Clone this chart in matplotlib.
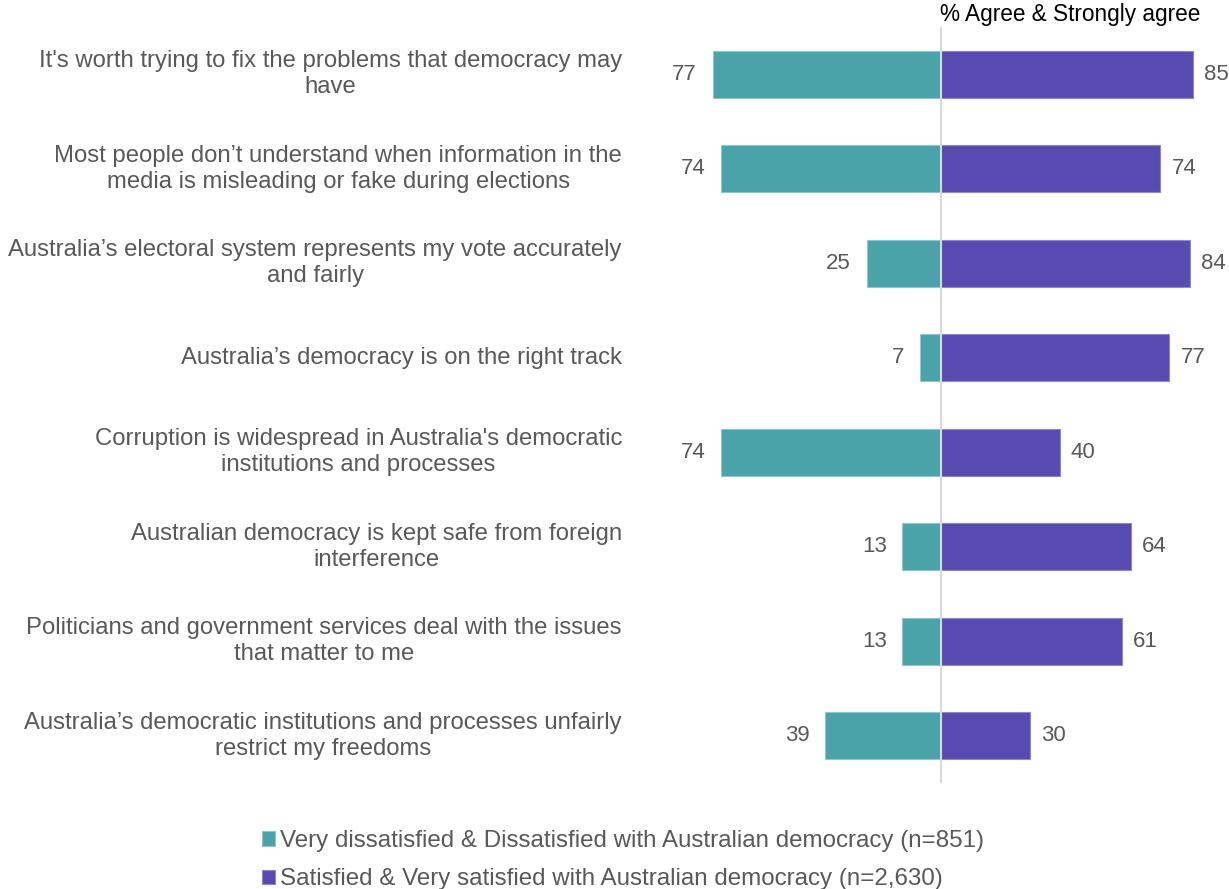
import matplotlib.pyplot as plt
import numpy as np

# data
statements = [
    "It's worth trying to fix the problems that democracy may\nhave",
    "Most people don\u2019t understand when information in the\nmedia is misleading or fake during elections",
    "Australia\u2019s electoral system represents my vote accurately\nand fairly",
    "Australia\u2019s democracy is on the right track",
    "Corruption is widespread in Australia's democratic\ninstitutions and processes",
    "Australian democracy is kept safe from foreign\ninterference",
    "Politicians and government services deal with the issues\nthat matter to me",
    "Australia\u2019s democratic institutions and processes unfairly\nrestrict my freedoms",
]
dissatisfied = [77, 74, 25, 7, 74, 13, 13, 39]
satisfied = [85, 74, 84, 77, 40, 64, 61, 30]
series_names = [
    "Very dissatisfied & Dissatisfied with Australian democracy (n=851)",
    "Satisfied & Very satisfied with Australian democracy (n=2,630)",
]

teal = '#4BA3AA'
purple = '#574AB0'
grey_text = '#595959'

plt.rcParams['font.family'] = ['Liberation Sans', 'DejaVu Sans']

fig = plt.figure(figsize=(12.29, 8.89), dpi=100)
# axes spans pixel x 650..1229, y 27..783 (from top)
W, H = 1229, 889
ax = fig.add_axes([650 / W, 1 - 783 / H, 579 / W, (783 - 27) / H])

y = np.arange(len(statements))
ax.barh(y, [-v for v in dissatisfied], height=0.5, color=teal,
        edgecolor='#8fc6cb', linewidth=0.8, label=series_names[0])
ax.barh(y, satisfied, height=0.5, color=purple,
        edgecolor='#8f87d0', linewidth=0.8, label=series_names[1])

ax.axvline(0, color='#d9d9d9', linewidth=1.5, zorder=3)

for i in range(len(statements)):
    ax.text(-dissatisfied[i] - 5.3, y[i], str(dissatisfied[i]), ha='right',
            va='center', fontsize=16, color=grey_text)
    ax.text(satisfied[i] + 3.8, y[i], str(satisfied[i]), ha='left',
            va='center', fontsize=16, color=grey_text)

ax.set_xlim(-98.1, 97.1)
ax.set_ylim(len(statements) - 0.5, -0.5)
ax.axis('off')

# statement labels, centred block whose right edge sits at ~622px
for i, s in enumerate(statements):
    ax.annotate(s, xy=(0, y[i]), xycoords=('figure fraction', 'data'),
                xytext=(622 / W, 0), textcoords=('figure fraction', 'offset points'),
                ha='right', va='center', multialignment='center',
                fontsize=17.2, color=grey_text, linespacing=1.22)

fig.text(1070 / W, 1 - 15 / H, '% Agree & Strongly agree', ha='center',
         va='center', fontsize=16.3, color='black')

handles, labels = ax.get_legend_handles_labels()
leg = fig.legend(handles, labels, loc='upper left', bbox_to_anchor=(262 / W, 1 - 830 / H),
                 frameon=False, fontsize=17.4, handlelength=0.55, handleheight=0.55,
                 handletextpad=0.2, labelspacing=0.68, borderaxespad=0,
                 borderpad=0)
for t in leg.get_texts():
    t.set_color(grey_text)

fig.savefig('out.png', dpi=100)
